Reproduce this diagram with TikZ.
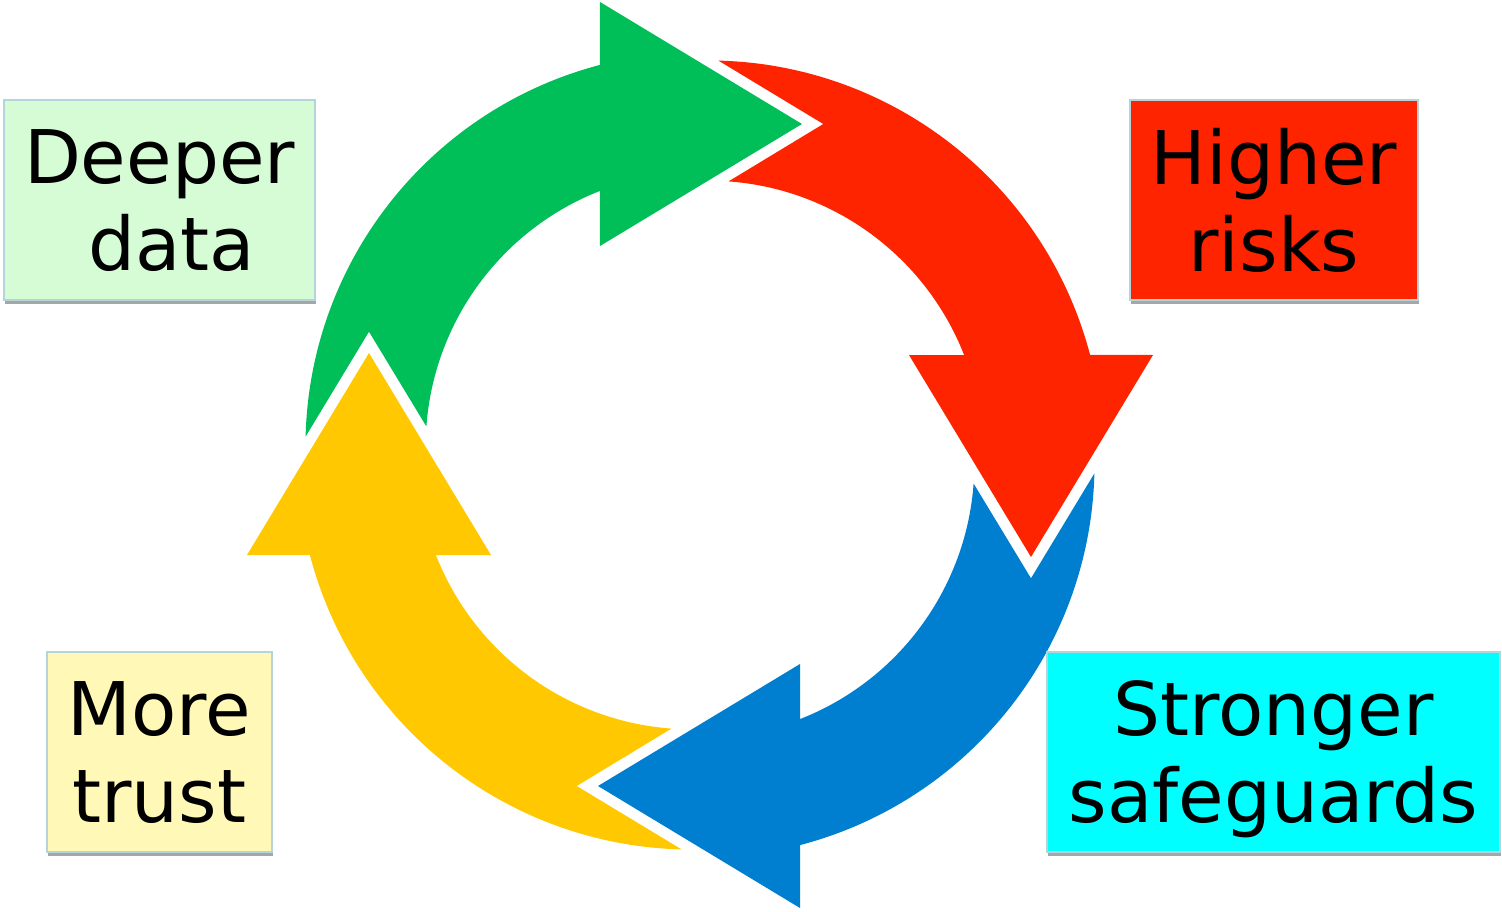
\documentclass[tikz,border=0pt]{standalone}
\usepackage{fontspec}
\setmainfont{DejaVu Sans}
\usetikzlibrary{shadows}

\definecolor{arrgreen}{RGB}{0,190,88}
\definecolor{arrred}{RGB}{255,36,0}
\definecolor{arrblue}{RGB}{0,127,208}
\definecolor{arryellow}{RGB}{255,200,0}
\definecolor{boxgreen}{RGB}{214,252,214}
\definecolor{boxyellow}{RGB}{255,248,182}
\definecolor{boxcyan}{RGB}{0,255,255}
\definecolor{boxedge}{RGB}{180,212,220}

\tikzset{
  % one curved arrow of the cycle, head at the top pointing right,
  % tail notched round the head of the next arrow
  cyclearrow/.pic={
    \path[pic actions] (-331,123.3) -- (-394.4,18.4)
      arc[start angle=178.56,end angle=104.7,radius=394.5pt]
      -- (-100,453) -- (102,331) -- (-100,209) -- (-100,264.1)
      arc[start angle=111.4,end angle=175.82,radius=274.5pt] -- cycle;
  }
}

\begin{document}
\begin{tikzpicture}[x=1pt,y=1pt,
  labelbox/.style={draw=boxedge,line width=1.2pt,minimum height=200pt,inner sep=0pt,
    align=center,text depth=0pt,font=\fontsize{74pt}{87pt}\selectfont,
    drop shadow={shadow xshift=1pt,shadow yshift=-4pt,opacity=0.35,fill=black}}]
  \useasboundingbox (-700,-456) rectangle (802,455);
  % ring of arrows
  \foreach \rot/\col in {0/arrgreen,-90/arrred,180/arrblue,90/arryellow}
    \pic[rotate=\rot,fill=\col] {cyclearrow};
  % corner labels
  \node[labelbox,fill=boxgreen,minimum width=311pt] (deeper) at (-540.5,255) {Deeper\\\hspace*{24pt}data};
  \node[labelbox,fill=arrred,minimum width=288pt] (risks) at (574,255) {Higher\\risks};
  \node[labelbox,fill=boxyellow,minimum width=225pt] (trust) at (-540.5,-297) {More\\trust};
  \node[labelbox,fill=boxcyan,minimum width=453pt] (safeguards) at (573.5,-297) {Stronger\\safeguards};
\end{tikzpicture}
\end{document}
